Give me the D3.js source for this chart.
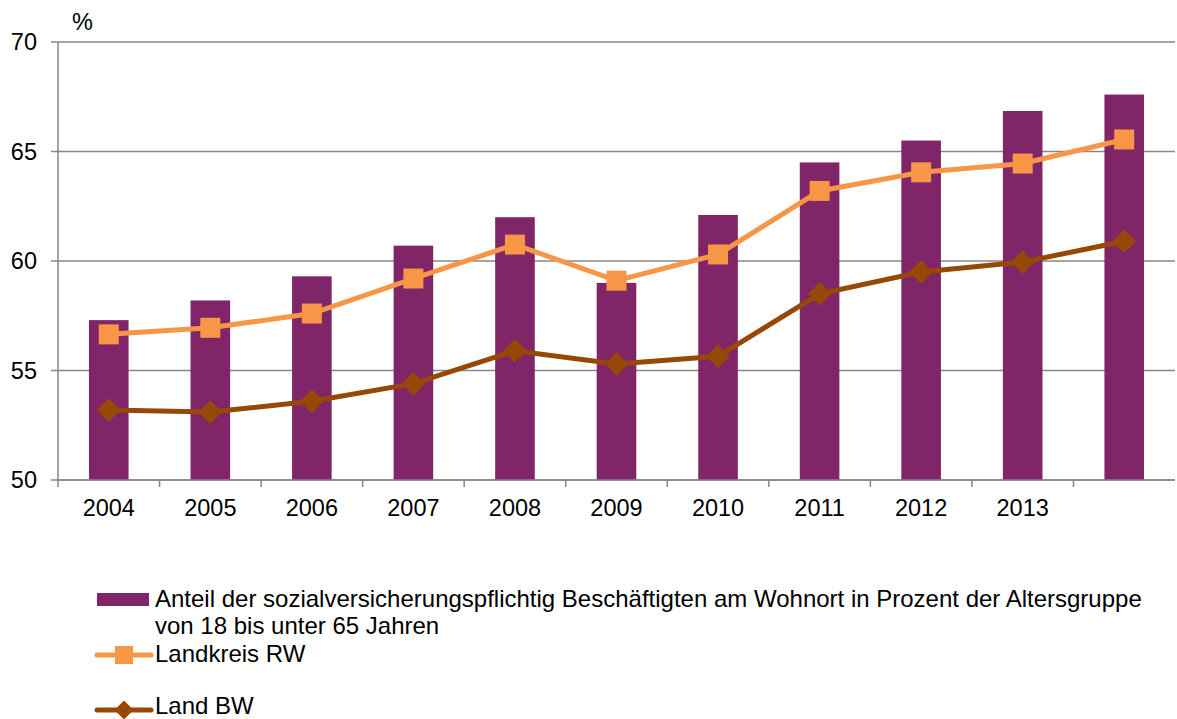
<!DOCTYPE html>
<html>
<head>
<meta charset="UTF-8">
<script src="https://d3js.org/d3.v7.min.js"></script>
<style>
    body { margin: 0; background: #fff; }
    svg text { font-family: "Liberation Sans", Arial, sans-serif; fill: #000; }
</style>
</head>
<body>
<svg id="chart" width="1177" height="719"></svg>
<script>
// categories (last one has no label in the original)
const years = ["2004", "2005", "2006", "2007", "2008", "2009", "2010", "2011", "2012", "2013", "2014"];
const yearLabels = ["2004", "2005", "2006", "2007", "2008", "2009", "2010", "2011", "2012", "2013", ""];
const anteil = [57.3, 58.2, 59.3, 60.7, 62.0, 59.0, 62.1, 64.5, 65.5, 66.85, 67.6];
const landkreisRW = [56.65, 56.95, 57.6, 59.2, 60.75, 59.1, 60.3, 63.2, 64.05, 64.45, 65.55];
const landBW = [53.2, 53.1, 53.6, 54.4, 55.9, 55.3, 55.65, 58.5, 59.5, 59.95, 60.9];
const yTicks = [50, 55, 60, 65, 70];

const purple = "#7F2568", orange = "#F79646", brown = "#974706", grid = "#878787";
const fs = 23.5;

const margin = {top: 42, left: 58, right: 2, bottom: 239};
const width = 1177 - margin.left - margin.right;
const height = 719 - margin.top - margin.bottom;

const svg = d3.select("#chart");
const chart = svg.append("g").attr("transform", `translate(${margin.left},${margin.top})`);

const x = d3.scaleBand().domain(years).range([0, width]).paddingInner(0.61).paddingOuter(0.305);
const xb = d3.scaleBand().domain(years).range([0, width]);
const y = d3.scaleLinear().domain([50, 70]).range([height, 0]);

// gridlines
chart.append("g")
    .selectAll("line")
    .data(yTicks)
    .join("line")
    .attr("x1", -7).attr("x2", width)
    .attr("y1", d => y(d)).attr("y2", d => y(d))
    .attr("stroke", grid).attr("stroke-width", 1.5);

// y axis
const yAxis = chart.append("g")
    .call(d3.axisLeft(y).tickValues(yTicks).tickSize(0).tickPadding(21));
yAxis.select(".domain").remove();
yAxis.selectAll("text").attr("font-size", fs).style("font-family", "Liberation Sans, Arial, sans-serif");

chart.append("line")
    .attr("x1", 0).attr("x2", 0).attr("y1", 0).attr("y2", height)
    .attr("stroke", grid).attr("stroke-width", 1.5);

svg.append("text").attr("x", 72).attr("y", 30).attr("font-size", fs).text("%");

// bars
chart.selectAll("rect.bar")
    .data(anteil)
    .join("rect")
    .attr("class", "bar")
    .attr("x", (d, i) => x(years[i]))
    .attr("width", x.bandwidth())
    .attr("y", d => y(d))
    .attr("height", d => height - y(d))
    .attr("fill", purple);

// x axis
chart.append("line")
    .attr("x1", 0).attr("x2", width).attr("y1", height).attr("y2", height)
    .attr("stroke", grid).attr("stroke-width", 1.5);
chart.append("g").selectAll("line")
    .data(years)
    .join("line")
    .attr("x1", d => xb(d)).attr("x2", d => xb(d))
    .attr("y1", height).attr("y2", height + 7)
    .attr("stroke", grid).attr("stroke-width", 1.5);
chart.append("g").selectAll("text")
    .data(years)
    .join("text")
    .attr("x", d => xb(d) + xb.bandwidth() / 2)
    .attr("y", height + 36)
    .attr("text-anchor", "middle")
    .attr("font-size", fs)
    .text((d, i) => yearLabels[i]);

const cx = d => xb(d) + xb.bandwidth() / 2;
const line = d3.line().x((d, i) => cx(years[i])).y(d => y(d));

// Landkreis RW
chart.append("path").datum(landkreisRW)
    .attr("d", line).attr("fill", "none")
    .attr("stroke", orange).attr("stroke-width", 5);
chart.selectAll("rect.sq")
    .data(landkreisRW)
    .join("rect")
    .attr("class", "sq")
    .attr("x", (d, i) => cx(years[i]) - 10)
    .attr("y", d => y(d) - 10)
    .attr("width", 20).attr("height", 20)
    .attr("fill", orange);

// Land BW
chart.append("path").datum(landBW)
    .attr("d", line).attr("fill", "none")
    .attr("stroke", brown).attr("stroke-width", 5);
const diamond = d3.symbol().type(d3.symbolSquare).size(280);
chart.selectAll("path.dm")
    .data(landBW)
    .join("path")
    .attr("class", "dm")
    .attr("d", diamond)
    .attr("transform", (d, i) => `translate(${cx(years[i])},${y(d)}) rotate(45)`)
    .attr("fill", brown);

// legend
const lg = svg.append("g");
lg.append("rect").attr("x", 97).attr("y", 593).attr("width", 52).attr("height", 13).attr("fill", purple);
lg.append("text").attr("x", 155).attr("y", 607).attr("font-size", 24)
    .text("Anteil der sozialversicherungspflichtig Beschäftigten am Wohnort in Prozent der Altersgruppe");
lg.append("text").attr("x", 155).attr("y", 634).attr("font-size", 24)
    .text("von 18 bis unter 65 Jahren");

lg.append("line").attr("x1", 97).attr("x2", 151).attr("y1", 655).attr("y2", 655)
    .attr("stroke", orange).attr("stroke-width", 5).attr("stroke-linecap", "round");
lg.append("rect").attr("x", 115).attr("y", 646).attr("width", 18).attr("height", 18).attr("fill", orange);
lg.append("text").attr("x", 155).attr("y", 662).attr("font-size", 24).text("Landkreis RW");

lg.append("line").attr("x1", 97).attr("x2", 151).attr("y1", 710).attr("y2", 710)
    .attr("stroke", brown).attr("stroke-width", 5).attr("stroke-linecap", "round");
lg.append("path").attr("d", d3.symbol().type(d3.symbolSquare).size(180))
    .attr("transform", "translate(124,710) rotate(45)").attr("fill", brown);
lg.append("text").attr("x", 155).attr("y", 714).attr("font-size", 24).text("Land BW");
</script>
</body>
</html>
